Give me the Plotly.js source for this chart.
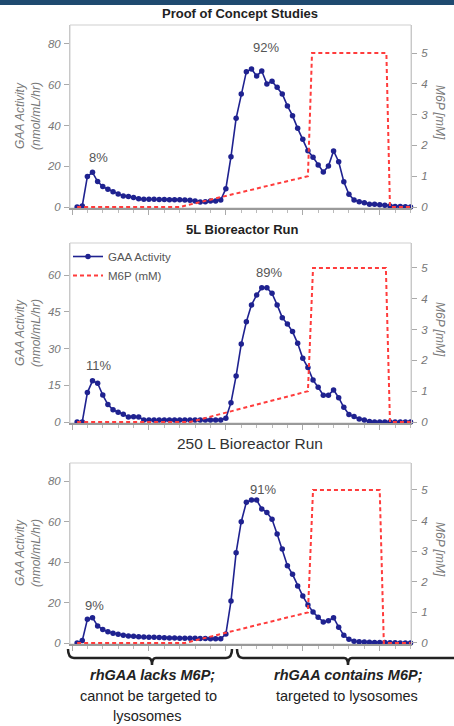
<!DOCTYPE html>
<html>
<head>
<meta charset="utf-8">
<script src="https://cdn.plot.ly/plotly-3.0.1.min.js"></script>
<style>html,body{margin:0;padding:0;background:#fff;}#chart{width:454px;height:726px;}</style>
</head>
<body>
<div id="chart"></div>
<script>
// Sample (fraction) index
const fraction = [1,2,3,4,5,6,7,8,9,10,11,12,13,14,15,16,17,18,19,20,21,22,23,24,25,26,27,28,29,30,31,32,33,34,35,36,37,38,39,40,41,42,43,44,45,46,47,48,49,50,51,52,53,54,55,56,57,58,59,60,61,62,63,64,65,66];

// GAA activity (nmol/mL/hr)
const gaaProof = [0,0.5,15,17,12.5,10,8.7,7.5,6.4,5.4,5.2,4.7,4.0,3.8,3.8,3.8,3.7,3.7,3.6,3.5,3.5,3.4,3.3,3.0,2.4,2.6,2.9,3.0,3.4,9,24.7,43.5,55.5,66.4,67.7,64.3,66.7,60.4,61.7,58.7,55.5,49.6,44.8,38.6,33.2,27.6,24.4,20.6,17.2,20.1,27.5,22.2,12.4,6.2,3.4,2.6,2.1,1.4,1.3,1.1,0.8,0.5,0.3,0.2,0.1,0];
const gaa5L = [0,0,12,16.8,15.8,11,7.1,5,4,3.2,2,2.1,2,0.8,0.8,0.8,0.8,0.8,0.8,0.8,0.8,0.8,0.8,0.8,0.8,0.8,0.8,0.8,0.8,1.5,7.9,18.8,31.8,40.9,47.8,51.8,54.8,54.8,52.5,47.8,42.6,40,36.9,32.1,26,22.2,17.1,14.2,10.9,10.9,13.1,9.9,6,3.1,2.2,1.2,0.8,0.2,0,0,0,0,0,0,0,0];
const gaa250L = [0,1.2,11.7,12.5,8.4,6.7,5.6,4.8,4.3,3.8,3.5,3.3,3.1,3.0,2.9,2.8,2.7,2.6,2.5,2.5,2.4,2.4,2.3,2.3,2.2,2.2,2.1,2.1,2.1,4.4,20.7,44.6,59.9,69.5,70.6,70.6,66.2,64.5,61.1,53.8,46.4,38.2,33.9,28.1,23.2,18.8,15.3,12.7,10.4,11,12.5,7.8,3.8,1.8,0.9,0.6,0.5,0.4,0.3,0.2,0.2,0.1,0.1,0,0,0];

// M6P elution gradient (mM)
const m6pProofX = [1,21,46,46.8,61.3,62,66];
const m6p5LX = [1,23,46,47,61.2,62,66];
const m6p250LX = [1,22,46,47,60,60.8,66];
const m6pY = [0,0,1,5,5,0,0];

// Tick labels
const ticksA = [0,20,40,60,80];
const ticksB = [0,15,30,45,60];
const ticksM6P = [0,1,2,3,4,5];

// Labels
const panelTitles = ["Proof of Concept Studies","5L Bioreactor Run","250 L Bioreactor Run"];
const peakLabels = [["8%","92%"],["11%","89%"],["9%","91%"]];

const W = 454, H = 726;
const px = x => x / W;
const py = y => 1 - y / H;
const FONT = '"Liberation Sans", Arial, sans-serif';
const NAVY = '#1f2290';
const RED = '#ff3c3c';

function gaaTrace(y, xa, ya, show) {
  return {x: fraction, y: y, xaxis: xa, yaxis: ya, type: 'scatter', mode: 'lines+markers',
    name: 'GAA Activity', legendrank: 1, showlegend: show, cliponaxis: false,
    line: {color: NAVY, width: 1.6}, marker: {color: NAVY, size: 5.5}};
}
function m6pTrace(x, xa, ya, show) {
  return {x: x, y: m6pY, xaxis: xa, yaxis: ya, type: 'scatter', mode: 'lines',
    name: 'M6P (mM)', legendrank: 2, showlegend: show, cliponaxis: false,
    line: {color: RED, width: 2, dash: '4px,3px'}};
}

const data = [
  m6pTrace(m6pProofX, 'x', 'y2', false), gaaTrace(gaaProof, 'x', 'y', false),
  m6pTrace(m6p5LX, 'x2', 'y4', true), gaaTrace(gaa5L, 'x2', 'y3', true),
  m6pTrace(m6p250LX, 'x3', 'y6', false), gaaTrace(gaa250L, 'x3', 'y5', false)
];

const tickFont = {family: FONT, size: 11.5, color: '#777', style: 'italic'};
function xAxis(anchor) {
  return {domain: [px(70), px(411)], range: [-0.39, 66.1], anchor: anchor,
    showgrid: false, zeroline: false, showticklabels: false,
    showline: true, linecolor: '#9a9a9a', linewidth: 2,
    ticks: 'outside', tick0: 0, dtick: 15, ticklen: 5, tickcolor: '#aaa', tickwidth: 1,
    minor: {dtick: 3, ticks: 'outside', ticklen: 3, tickcolor: '#bbb', showgrid: false}};
}
function yLeft(dom, range, vals, anchor) {
  return {domain: dom, range: range, anchor: anchor, showgrid: false, zeroline: false,
    showline: true, linecolor: '#c8c8c8', linewidth: 1,
    ticks: 'outside', ticklen: 5, tickcolor: '#aaa', tickvals: vals, ticktext: vals.map(String),
    tickfont: tickFont, ticklabelstandoff: 1};
}
function yRight(dom, range, anchor, over) {
  return {domain: dom, range: range, anchor: anchor, overlaying: over, side: 'right',
    showgrid: false, zeroline: false, showline: true, linecolor: '#c8c8c8', linewidth: 1,
    ticks: 'outside', ticklen: 5, tickcolor: '#aaa', tickvals: ticksM6P, ticktext: ticksM6P.map(String),
    tickfont: tickFont, ticklabelstandoff: 2};
}

const d1 = [py(208), py(25)], d2 = [py(423), py(243)], d3 = [py(644), py(463)];

const annotations = [];
function ann(text, x, y, size, opts) {
  annotations.push(Object.assign({text: text, x: px(x), y: py(y), xref: 'paper', yref: 'paper',
    showarrow: false, xanchor: 'center', yanchor: 'middle',
    font: {family: FONT, size: size, color: '#333'}}, opts || {}));
}
// panel titles
ann('<b>' + panelTitles[0] + '</b>', 240, 14, 13, {font: {family: FONT, size: 13, color: '#222'}});
ann('<b>' + panelTitles[1] + '</b>', 242, 229, 13, {font: {family: FONT, size: 13, color: '#222'}});
ann(panelTitles[2], 250, 443, 15.5, {font: {family: FONT, size: 15.5, color: '#333'}});
// y axis titles
const titleFont = {family: FONT, size: 12, color: '#777', style: 'italic'};
[[116], [333], [553]].forEach(([cy]) => {
  ann('GAA Activity<br>(nmol/mL/hr)', 28, cy, 12, {textangle: -90, font: titleFont});
  ann('M6P [mM]', 440, cy - 4, 12, {textangle: 90, font: titleFont});
});
// peak percentages
const pctFont = {family: FONT, size: 13, color: '#555'};
ann(peakLabels[0][0], 98, 157, 13, {font: pctFont});
ann(peakLabels[0][1], 266, 47, 13, {font: pctFont});
ann(peakLabels[1][0], 98, 365, 13, {font: pctFont});
ann(peakLabels[1][1], 269, 272, 13, {font: pctFont});
ann(peakLabels[2][0], 94, 605, 13, {font: pctFont});
ann(peakLabels[2][1], 263, 489, 13, {font: pctFont});
// bracket captions
const capFont = {family: FONT, size: 14.5, color: '#222'};
ann('<b><i>rhGAA lacks M6P;</i></b>', 152, 675, 14.5, {font: capFont});
ann('cannot be targeted to', 148, 696, 14.5, {font: capFont});
ann('lysosomes', 147, 716, 14.5, {font: capFont});
ann('<b><i>rhGAA contains M6P;</i></b>', 348, 675, 14.5, {font: capFont});
ann('targeted to lysosomes', 347, 696, 14.5, {font: capFont});

function P(x, y) { return px(x).toFixed(5) + ',' + py(y).toFixed(5); }
const shapes = [
  {type: 'rect', xref: 'paper', yref: 'paper', x0: 0, x1: 1, y0: py(5), y1: 1,
   fillcolor: '#1f4a70', line: {width: 0}},
  {type: 'rect', xref: 'x domain', yref: 'y domain', x0: 0, x1: 1, y0: 0, y1: 1, line: {color: '#cfcfcf', width: 1}, layer: 'below'},
  {type: 'rect', xref: 'x2 domain', yref: 'y3 domain', x0: 0, x1: 1, y0: 0, y1: 1, line: {color: '#cfcfcf', width: 1}, layer: 'below'},
  {type: 'rect', xref: 'x3 domain', yref: 'y5 domain', x0: 0, x1: 1, y0: 0, y1: 1, line: {color: '#cfcfcf', width: 1}, layer: 'below'},
  {type: 'path', xref: 'paper', yref: 'paper', line: {color: '#222', width: 2.5},
   path: 'M' + P(68, 649) + ' Q' + P(68, 658) + ' ' + P(74, 658) + ' L' + P(148, 658) +
         ' Q' + P(152, 658) + ' ' + P(152, 665) + ' Q' + P(152, 658) + ' ' + P(156, 658) +
         ' L' + P(226, 658) + ' Q' + P(232, 658) + ' ' + P(232, 649)},
  {type: 'path', xref: 'paper', yref: 'paper', line: {color: '#222', width: 2.5},
   path: 'M' + P(237, 649) + ' Q' + P(237, 658) + ' ' + P(243, 658) + ' L' + P(344, 658) +
         ' Q' + P(348, 658) + ' ' + P(348, 665) + ' Q' + P(348, 658) + ' ' + P(352, 658) +
         ' L' + P(456, 658)}
];

const layout = {
  width: W, height: H, margin: {l: 0, r: 0, t: 0, b: 0},
  paper_bgcolor: '#fff', plot_bgcolor: 'rgba(0,0,0,0)',
  font: {family: FONT},
  showlegend: true,
  legend: {x: px(68), y: py(242), xanchor: 'left', yanchor: 'top', bgcolor: 'rgba(0,0,0,0)',
    font: {family: FONT, size: 11.5, color: '#555'}, itemwidth: 30, tracegroupgap: 0},
  xaxis: xAxis('y'), xaxis2: xAxis('y3'), xaxis3: xAxis('y5'),
  yaxis: yLeft(d1, [-0.49, 89.3], ticksA, 'x'),
  yaxis2: yRight(d1, [-0.032, 5.91], 'x', 'y'),
  yaxis3: yLeft(d2, [-0.41, 73.06], ticksB, 'x2'),
  yaxis4: yRight(d2, [-0.032, 5.81], 'x2', 'y3'),
  yaxis5: yLeft(d3, [-0.49, 88.9], ticksA, 'x3'),
  yaxis6: yRight(d3, [-0.033, 5.88], 'x3', 'y5'),
  annotations: annotations, shapes: shapes
};

Plotly.newPlot('chart', data, layout, {staticPlot: true, displayModeBar: false});
</script>
</body>
</html>
